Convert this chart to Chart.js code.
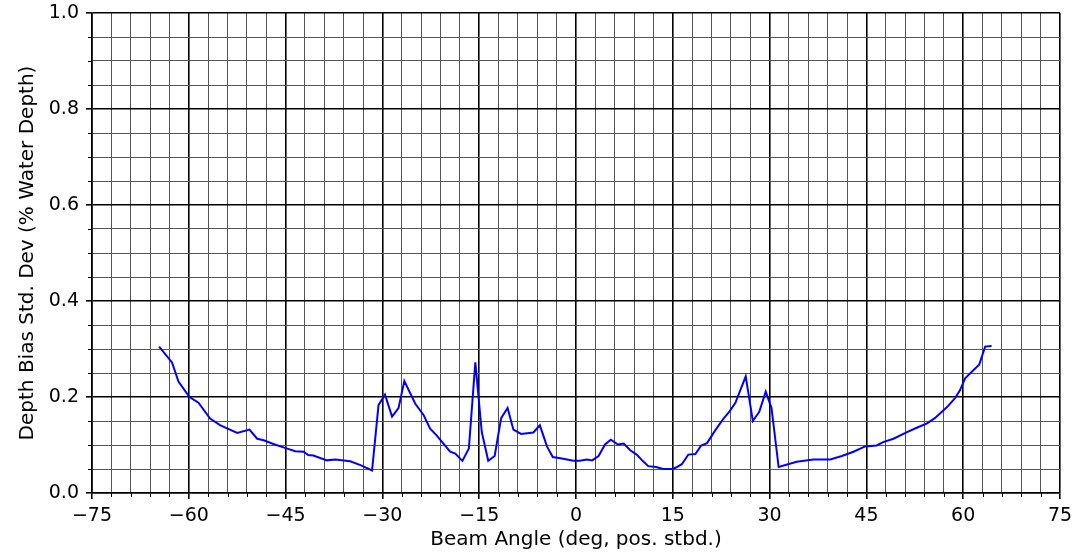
<!DOCTYPE html>
<html>
<head>
<meta charset="utf-8">
<script src="https://cdn.jsdelivr.net/npm/chart.js@4/dist/chart.umd.min.js"></script>
<style>
  html, body { margin: 0; padding: 0; background: #fff; }
  #wrap { width: 1073px; height: 557px; }
</style>
</head>
<body>
<div id="wrap"><canvas id="chart" width="1073" height="557"></canvas></div>
<script>
// beam angle (deg) and depth bias std dev (% water depth)
var beamAngle = [
    -64.6, -62.6, -61.6, -59.9, -58.5, -56.7, -55.1, -52.5, -50.6, -49.4,
    -48.4, -46.9, -45.1, -43.5, -42.2, -41.5, -40.7, -38.6, -37.3, -35.0,
    -33.4, -31.6, -30.6, -29.6, -28.5, -27.5, -26.6, -24.9, -23.6, -22.6,
    -21.6, -19.5, -18.7, -17.6, -16.6, -15.6, -14.6, -13.6, -12.6, -11.6,
    -10.6, -9.7, -8.5, -6.6, -5.6, -4.5, -3.6, -2.2, -0.4, 0.6,
    1.7, 2.5, 3.5, 4.5, 5.4, 6.5, 7.4, 8.4, 9.4, 10.4,
    11.2, 12.4, 13.5, 14.9, 15.5, 16.4, 17.4, 18.5, 19.4, 20.3,
    21.6, 22.8, 23.8, 24.7, 26.3, 27.4, 28.4, 29.4, 30.3, 31.4,
    34.2, 36.8, 39.4, 41.2, 43.0, 44.8, 46.6, 47.6, 49.2, 51.3,
    52.8, 54.4, 55.6, 57.5, 58.7, 59.5, 60.3, 61.3, 62.5, 63.4,
    64.4
];
var depthBiasStd = [
    0.305, 0.272, 0.232, 0.200, 0.188, 0.155, 0.141, 0.125, 0.132, 0.113,
    0.110, 0.102, 0.094, 0.087, 0.086, 0.079, 0.078, 0.068, 0.070, 0.066,
    0.058, 0.047, 0.183, 0.205, 0.159, 0.177, 0.233, 0.186, 0.162, 0.134,
    0.120, 0.086, 0.082, 0.067, 0.093, 0.272, 0.127, 0.067, 0.077, 0.156,
    0.177, 0.132, 0.123, 0.126, 0.141, 0.097, 0.075, 0.072, 0.067, 0.067,
    0.070, 0.068, 0.077, 0.101, 0.111, 0.101, 0.103, 0.089, 0.080, 0.066,
    0.056, 0.054, 0.050, 0.050, 0.053, 0.060, 0.080, 0.081, 0.099, 0.104,
    0.131, 0.154, 0.170, 0.188, 0.243, 0.150, 0.169, 0.211, 0.177, 0.054,
    0.065, 0.070, 0.070, 0.077, 0.086, 0.097, 0.099, 0.106, 0.113, 0.127,
    0.136, 0.145, 0.156, 0.179, 0.197, 0.214, 0.239, 0.252, 0.268, 0.305,
    0.306
];
var xMajor = 15, xMinor = 3;
var yMajor = 0.2, yMinor = 0.05;

var points = beamAngle.map(function(a, i) { return { x: a, y: depthBiasStd[i] }; });

function isXMajor(v) { return Math.abs(v % xMajor) < 1e-6; }
function isYMajor(v) { return Math.round(v * 100) % Math.round(yMajor * 100) === 0; }

var fontFamily = "'DejaVu Sans', sans-serif";

// short tick marks for the minor grid steps
var minorTicks = {
    id: 'minorTicks',
    afterDraw: function(chart) {
        var ctx = chart.ctx;
        var xs = chart.scales.x, ys = chart.scales.y;
        var area = chart.chartArea;
        ctx.save();
        ctx.strokeStyle = '#000';
        ctx.lineWidth = 1;
        xs.ticks.forEach(function(t) {
            if (isXMajor(t.value)) return;
            var px = Math.round(xs.getPixelForValue(t.value)) + 0.5;
            ctx.beginPath();
            ctx.moveTo(px, area.bottom);
            ctx.lineTo(px, area.bottom + 4);
            ctx.stroke();
        });
        ys.ticks.forEach(function(t) {
            if (isYMajor(t.value)) return;
            var py = Math.round(ys.getPixelForValue(t.value)) + 0.5;
            ctx.beginPath();
            ctx.moveTo(area.left - 4, py);
            ctx.lineTo(area.left, py);
            ctx.stroke();
        });
        ctx.restore();
    }
};

new Chart(document.getElementById('chart').getContext('2d'), {
    type: 'line',
    data: {
        datasets: [{
            data: points,
            borderColor: '#0000ff',
            borderWidth: 2,
            pointRadius: 0,
            tension: 0,
            fill: false
        }]
    },
    options: {
        responsive: false,
        animation: false,
        layout: { padding: { top: 13, right: 13, left: 0, bottom: 0 } },
        plugins: { legend: { display: false }, tooltip: { enabled: false } },
        scales: {
            x: {
                type: 'linear',
                min: -75,
                max: 75,
                afterFit: function(scale) {
                    scale.height = 64;
                    scale.paddingLeft = 0;
                    scale.paddingRight = 0;
                },
                ticks: {
                    stepSize: xMinor,
                    autoSkip: false,
                    maxRotation: 0,
                    padding: 6,
                    color: '#000',
                    font: { family: fontFamily, size: 19 },
                    callback: function(v) {
                        if (!isXMajor(v)) return '';
                        var r = Math.round(v);
                        return r < 0 ? '\u2212' + Math.abs(r) : String(r);
                    }
                },
                grid: {
                    color: function(c) { return isXMajor(c.tick.value) ? '#000' : '#555'; },
                    lineWidth: function(c) { return isXMajor(c.tick.value) ? 1.6 : 1; },
                    tickColor: function(c) { return isXMajor(c.tick.value) ? '#000' : 'rgba(0,0,0,0)'; },
                    tickLength: 6
                },
                border: { display: true, color: '#000', width: 1.6 },
                title: {
                    display: true,
                    text: 'Beam Angle (deg, pos. stbd.)',
                    color: '#000',
                    font: { family: fontFamily, size: 20 },
                    padding: { top: 0, bottom: 5 }
                }
            },
            y: {
                type: 'linear',
                min: 0,
                max: 1,
                afterFit: function(scale) {
                    scale.width = 92;
                    scale.paddingTop = 0;
                    scale.paddingBottom = 0;
                },
                ticks: {
                    stepSize: yMinor,
                    autoSkip: false,
                    padding: 7,
                    color: '#000',
                    font: { family: fontFamily, size: 19 },
                    callback: function(v) { return isYMajor(v) ? v.toFixed(1) : ''; }
                },
                grid: {
                    color: function(c) { return isYMajor(c.tick.value) ? '#000' : '#555'; },
                    lineWidth: function(c) { return isYMajor(c.tick.value) ? 1.6 : 1; },
                    tickColor: function(c) { return isYMajor(c.tick.value) ? '#000' : 'rgba(0,0,0,0)'; },
                    tickLength: 6
                },
                border: { display: true, color: '#000', width: 1.6 },
                title: {
                    display: true,
                    text: 'Depth Bias Std. Dev (% Water Depth)',
                    color: '#000',
                    font: { family: fontFamily, size: 20 },
                    padding: { top: 16, bottom: 0 }
                }
            }
        }
    },
    plugins: [minorTicks]
});
</script>
</body>
</html>
